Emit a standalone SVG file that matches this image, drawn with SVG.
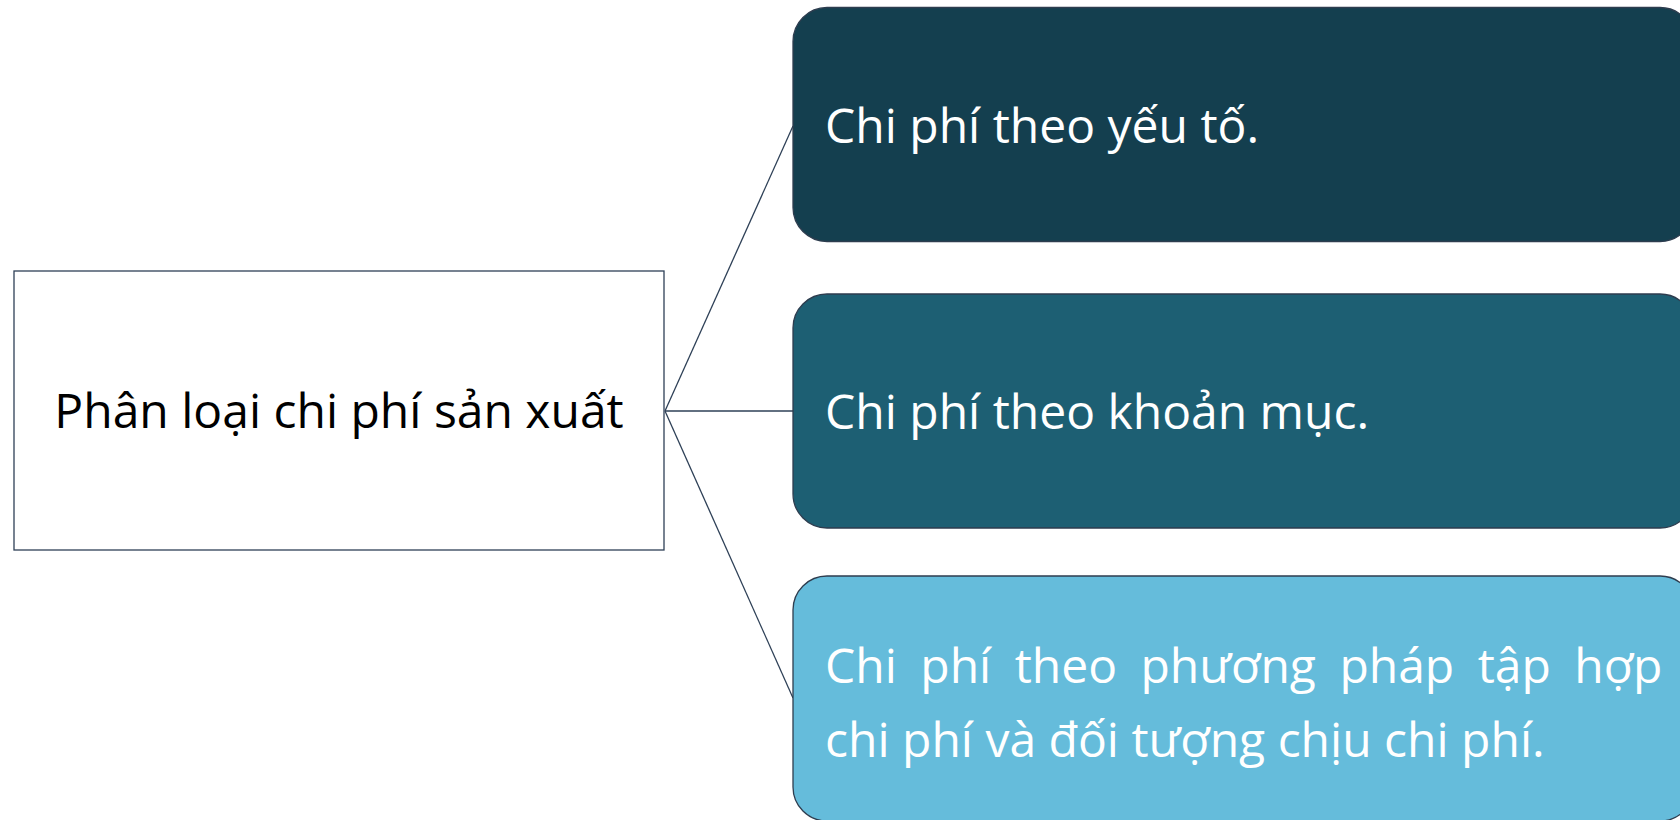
<svg xmlns="http://www.w3.org/2000/svg" width="1680" height="820" viewBox="0 0 1680 820">
<style>
.main{fill:#ffffff;stroke:#2e4057;stroke-width:1.3}
.b{stroke:#2e3d4f;stroke-width:1.3}
.lbl{font-family:"Open Sans","Liberation Sans",sans-serif;font-size:48px;fill:#000000}
.t{font-family:"Open Sans","Liberation Sans",sans-serif;font-size:48px;fill:#ffffff}
.conn{stroke:#2e4057;stroke-width:1.3;fill:none}
</style>
<rect width="1680" height="820" fill="#ffffff"/>
<g id="connectors">
<line class="conn" x1="665" y1="411" x2="793" y2="126"/>
<line class="conn" x1="665" y1="411" x2="793" y2="411"/>
<line class="conn" x1="665" y1="411" x2="793" y2="698"/>
</g>
<g id="node-main">
<rect class="main" x="14" y="271" width="650" height="279"/>
<text class="lbl" x="339" y="428" text-anchor="middle">Phân loại chi phí sản xuất</text>
</g>
<g id="node-1">
<rect class="b" x="793" y="7.5" width="901" height="234" rx="34" ry="34" fill="#143f4f"/>
<text class="t" x="825" y="143">Chi phí theo yếu tố.</text>
</g>
<g id="node-2">
<rect class="b" x="793" y="294" width="901" height="234" rx="34" ry="34" fill="#1d5f73"/>
<text class="t" x="825" y="429">Chi phí theo khoản mục.</text>
</g>
<g id="node-3">
<rect class="b" x="793" y="576" width="901" height="245" rx="34" ry="34" fill="#65bcdb"/>
<text class="t" x="825" y="683" word-spacing="11">Chi phí theo phương pháp tập hợp</text>
<text class="t" x="825" y="757">chi phí và đối tượng chịu chi phí.</text>
</g>
</svg>
